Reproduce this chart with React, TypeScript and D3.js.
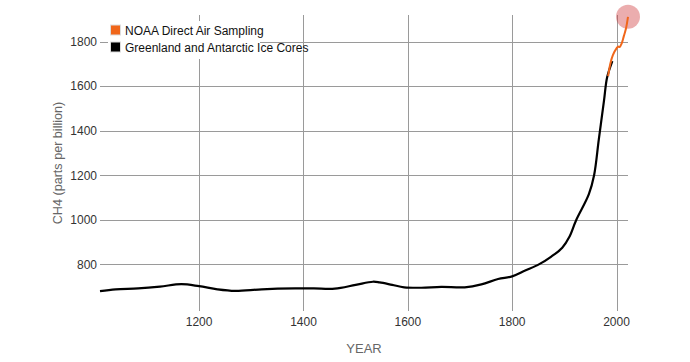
import React, { useEffect, useRef } from "react";
import * as d3 from "d3";

// Greenland and Antarctic ice cores (year, ppb)
const coreYears = [
  1010, 1040, 1083, 1125, 1166, 1200, 1235, 1269, 1320, 1384, 1420, 1460, 1500,
  1533, 1546, 1570, 1593, 1626, 1664, 1709, 1741, 1773, 1800, 1825, 1852, 1875,
  1896, 1910, 1922, 1947, 1957, 1966, 1976, 1982, 1992,
];
const coreValues = [
  680, 688, 692, 700, 711, 702, 688, 681, 688, 692, 692, 691, 708, 722, 719,
  708, 697, 695, 699, 697, 710, 734, 746, 772, 801, 835, 875, 925, 995, 1115,
  1200, 1360, 1535, 1640, 1713,
];

// NOAA direct air sampling
const noaaYears = [1984, 1988, 1993, 2000, 2003, 2006, 2010, 2014, 2018, 2022];
const noaaValues = [1645, 1700, 1740, 1770, 1778, 1776, 1793, 1825, 1858, 1912];

const xTicks = [1200, 1400, 1600, 1800, 2000];
const yTicks = [800, 1000, 1200, 1400, 1600, 1800];

const legendItems = ["NOAA Direct Air Sampling", "Greenland and Antarctic Ice Cores"];
const legendColors = ["#f0661a", "#000000"];

const width = 690;
const height = 362;
const margin = { top: 15, right: 62, bottom: 52, left: 100 };
const font = "'Liberation Sans', Arial, Helvetica, sans-serif";

const App = () => {
  const chartRef = useRef(null);

  useEffect(() => {
    d3.select(chartRef.current).selectAll("*").remove();

    const svg = d3
      .select(chartRef.current)
      .append("svg")
      .attr("width", width)
      .attr("height", height)
      .style("position", "absolute")
      .style("left", 0)
      .style("top", 0)
      .style("display", "block")
      .style("font-family", font);

    const x = d3
      .scaleLinear()
      .domain([1010, 2022])
      .range([margin.left, width - margin.right]);

    const y = d3
      .scaleLinear()
      .domain([595, 1920])
      .range([height - margin.bottom, margin.top]);

    // vertical gridlines + x labels
    const xg = svg.append("g");
    xg.selectAll("line")
      .data(xTicks)
      .join("line")
      .attr("x1", (d) => Math.round(x(d)) + 0.5)
      .attr("x2", (d) => Math.round(x(d)) + 0.5)
      .attr("y1", margin.top)
      .attr("y2", height - margin.bottom + 1)
      .attr("stroke", "#9a9a9a")
      .attr("stroke-width", 1);
    xg.selectAll("text")
      .data(xTicks)
      .join("text")
      .attr("x", (d) => x(d))
      .attr("y", 326)
      .attr("text-anchor", "middle")
      .attr("font-size", 12)
      .attr("fill", "#333")
      .text((d) => d);

    // horizontal gridlines + y labels
    const yg = svg.append("g");
    yg.selectAll("line")
      .data(yTicks)
      .join("line")
      .attr("x1", margin.left)
      .attr("x2", width - margin.right)
      .attr("y1", (d) => Math.round(y(d)) + 0.5)
      .attr("y2", (d) => Math.round(y(d)) + 0.5)
      .attr("stroke", "#9a9a9a")
      .attr("stroke-width", 1);
    yg.selectAll("text")
      .data(yTicks)
      .join("text")
      .attr("x", margin.left - 3)
      .attr("y", (d) => y(d))
      .attr("dy", "0.35em")
      .attr("text-anchor", "end")
      .attr("font-size", 12)
      .attr("fill", "#333")
      .text((d) => d);

    // axis titles
    svg
      .append("text")
      .attr("x", (margin.left + width - margin.right) / 2)
      .attr("y", 348)
      .attr("dy", "0.35em")
      .attr("text-anchor", "middle")
      .attr("font-size", 13)
      .attr("fill", "#666")
      .text("YEAR");

    svg
      .append("text")
      .attr("transform", "translate(58, 163) rotate(-90)")
      .attr("dy", "0.35em")
      .attr("text-anchor", "middle")
      .attr("font-size", 12.6)
      .attr("fill", "#666")
      .text("CH4 (parts per billion)");

    const line = d3
      .line()
      .x((d) => x(d[0]))
      .y((d) => y(d[1]))
      .curve(d3.curveCatmullRom.alpha(0.5));

    const coreData = coreYears.map((yr, i) => [yr, coreValues[i]]);
    const noaaData = noaaYears.map((yr, i) => [yr, noaaValues[i]]);

    // highlight circle at the latest reading
    const last = noaaData[noaaData.length - 1];
    svg
      .append("circle")
      .attr("cx", x(last[0]))
      .attr("cy", y(last[1]))
      .attr("r", 12)
      .attr("fill", "#cf3b3e")
      .attr("fill-opacity", 0.42);

    svg
      .append("path")
      .datum(coreData)
      .attr("d", line)
      .attr("fill", "none")
      .attr("stroke", "#000")
      .attr("stroke-width", 2.2);

    svg
      .append("path")
      .datum(noaaData)
      .attr("d", line)
      .attr("fill", "none")
      .attr("stroke", legendColors[0])
      .attr("stroke-width", 2);

    // legend
    const lg = svg.append("g");
    lg.append("rect")
      .attr("x", 108)
      .attr("y", 21)
      .attr("width", 152)
      .attr("height", 38)
      .attr("fill", "#fff");

    const rows = lg
      .selectAll("g.row")
      .data(legendItems)
      .join("g")
      .attr("class", "row")
      .attr("transform", (d, i) => `translate(110, ${30.5 + i * 17})`);
    rows
      .append("rect")
      .attr("x", 0.5)
      .attr("y", -5.5)
      .attr("width", 10)
      .attr("height", 10)
      .attr("fill", (d, i) => legendColors[i])
      .attr("stroke", "#ddd")
      .attr("stroke-width", 1);
    rows
      .append("text")
      .attr("x", 15)
      .attr("y", 0)
      .attr("dy", "0.35em")
      .attr("font-size", 12)
      .attr("fill", "#111")
      .text((d) => d);
  }, []);

  return <div ref={chartRef} />;
};

export default App;
